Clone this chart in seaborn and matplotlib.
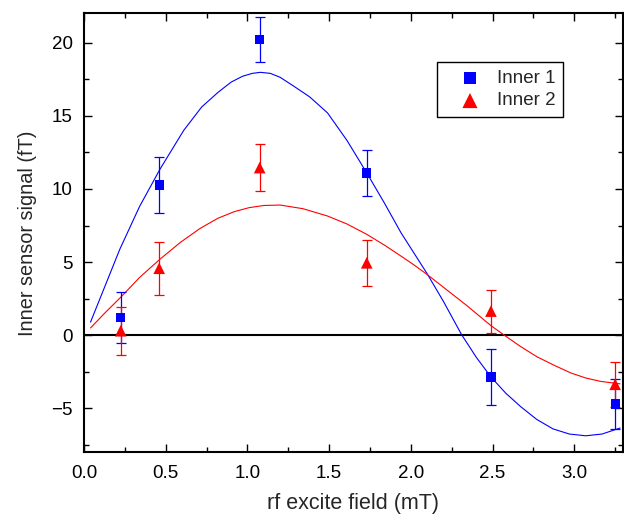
import matplotlib
matplotlib.use("Agg")
import matplotlib.pyplot as plt
import seaborn as sns
import pandas as pd
from matplotlib.ticker import MultipleLocator

# Measured points
x_pts = [0.225, 0.46, 1.075, 1.73, 2.49, 3.25]
inner1_y = [1.2, 10.27, 20.23, 11.09, -2.85, -4.7]
inner1_err = [1.75, 1.9, 1.55, 1.55, 1.9, 1.71]
inner2_y = [0.31, 4.58, 11.46, 4.95, 1.65, -3.35]
inner2_err = [1.65, 1.8, 1.62, 1.55, 1.47, 1.55]

# Fit curves
fit1_x = [0.04, 0.13, 0.22, 0.34, 0.465, 0.61, 0.72, 0.82, 0.90, 0.97, 1.03, 1.08, 1.14,
          1.20, 1.28, 1.38, 1.49, 1.61, 1.73, 1.84, 1.94, 2.02, 2.10, 2.20, 2.31, 2.40,
          2.49, 2.58, 2.67, 2.77, 2.87, 2.97, 3.07, 3.17, 3.28]
fit1_y = [0.9, 3.4, 5.9, 8.8, 11.35, 14.0, 15.6, 16.6, 17.3, 17.7, 17.9, 17.97, 17.9,
          17.63, 17.05, 16.3, 15.2, 13.3, 11.1, 9.0, 7.0, 5.6, 4.2, 2.3, 0.05, -1.5,
          -2.85, -3.95, -4.86, -5.75, -6.4, -6.75, -6.87, -6.75, -6.34]
fit2_x = [0.04, 0.13, 0.225, 0.34, 0.465, 0.59, 0.71, 0.82, 0.92, 1.01, 1.10, 1.20, 1.34,
          1.49, 1.61, 1.73, 1.84, 1.94, 2.02, 2.10, 2.18, 2.34, 2.49, 2.58, 2.67, 2.77,
          2.88, 2.98, 3.07, 3.16, 3.28]
fit2_y = [0.5, 1.55, 2.6, 3.95, 5.2, 6.35, 7.3, 8.0, 8.45, 8.72, 8.87, 8.9, 8.65,
          8.15, 7.6, 6.9, 6.15, 5.41, 4.8, 4.15, 3.45, 2.05, 0.66, -0.06, -0.76, -1.46,
          -2.07, -2.58, -2.92, -3.15, -3.32]

xticks = [0.0, 0.5, 1.0, 1.5, 2.0, 2.5, 3.0]
yticks = [-5, 0, 5, 10, 15, 20]

sns.set_style("ticks")
plt.rcParams['font.family'] = ['Liberation Sans', 'DejaVu Sans']
plt.rcParams['axes.unicode_minus'] = True

fig = plt.figure(figsize=(6.24, 5.14), dpi=100)
ax = fig.add_axes([0.1346, 0.120, 0.863, 0.854])

ax.axhline(0, color='black', lw=1.5, zorder=1)

df1 = pd.DataFrame({'x': fit1_x, 'y': fit1_y})
df2 = pd.DataFrame({'x': fit2_x, 'y': fit2_y})
sns.lineplot(data=df1, x='x', y='y', ax=ax, color='#0000ff', lw=0.8, sort=False, zorder=2)
sns.lineplot(data=df2, x='x', y='y', ax=ax, color='#ff0000', lw=0.8, sort=False, zorder=2)

ax.errorbar(x_pts, inner1_y, yerr=inner1_err, fmt='none', ecolor='#0000ff',
            elinewidth=0.9, capsize=3.4, capthick=0.9, zorder=3)
ax.errorbar(x_pts, inner2_y, yerr=inner2_err, fmt='none', ecolor='#ff0000',
            elinewidth=0.9, capsize=3.4, capthick=0.9, zorder=3)

pts = pd.DataFrame({'x': x_pts * 2, 'y': inner1_y + inner2_y,
                    'series': ['Inner 1'] * 6 + ['Inner 2'] * 6})
sns.scatterplot(data=pts[pts.series == 'Inner 1'], x='x', y='y', ax=ax, marker='s',
                color='#0000ff', s=44, edgecolor='none', label='Inner 1', zorder=4)
sns.scatterplot(data=pts[pts.series == 'Inner 2'], x='x', y='y', ax=ax, marker='^',
                color='#ff0000', s=70, edgecolor='none', label='Inner 2', zorder=4)

ax.set_xlim(0, 3.295)
ax.set_ylim(-8, 22)
ax.set_xticks(xticks)
ax.set_xticklabels([f"{t:.1f}" for t in xticks])
ax.set_yticks(yticks)
ax.set_yticklabels(["\u22125" if t < 0 else str(t) for t in yticks])
ax.xaxis.set_minor_locator(MultipleLocator(0.25))
ax.yaxis.set_minor_locator(MultipleLocator(2.5))
ax.tick_params(which='both', direction='in', top=True, right=True, labelsize=13.5,
               width=1.0, color='black', labelcolor='black')
ax.tick_params(which='major', length=6)
ax.tick_params(which='minor', length=3.5)
ax.tick_params(axis='x', pad=9)
ax.tick_params(axis='y', pad=8)
for sp in ax.spines.values():
    sp.set_linewidth(1.5)
    sp.set_color('black')

ax.set_xlabel('rf excite field (mT)', fontsize=15.5, labelpad=8)
ax.set_ylabel('Inner sensor signal (fT)', fontsize=14.3, labelpad=10)

leg = ax.legend(loc='upper right', bbox_to_anchor=(0.890, 0.889), fontsize=13.5,
                frameon=True, fancybox=False, edgecolor='black', framealpha=1,
                handletextpad=0.1, borderpad=0.4, labelspacing=0.3, handlelength=2.7,
                borderaxespad=0, markerscale=1.3)
leg.get_frame().set_linewidth(1.0)

fig.savefig('out.png', dpi=100)
